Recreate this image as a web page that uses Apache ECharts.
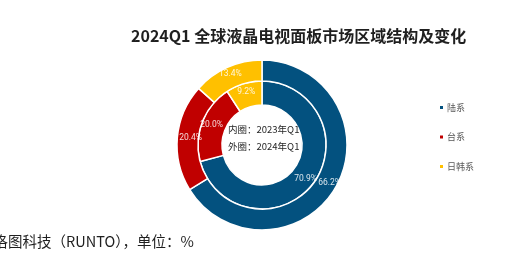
<!DOCTYPE html>
<html>
<head>
<meta charset="utf-8">
<script src="https://cdn.jsdelivr.net/npm/echarts@6/dist/echarts.min.js"></script>
<style>
  html, body { margin: 0; padding: 0; background: #fff; }
  #chart { width: 520px; height: 257px; }
</style>
</head>
<body>
<div id="chart"></div>
<script>
// Regions and their shares (%)
const regions = ['陆系', '台系', '日韩系'];
const share2023Q1 = [70.9, 20.0, 9.2];   // inner ring
const share2024Q1 = [66.2, 20.4, 13.4];  // outer ring
const regionColors = ['#03517f', '#c00000', '#ffc000'];

const FONT = '"Noto Sans CJK SC", "Microsoft YaHei", sans-serif';

function ringData(values) {
  return regions.map((name, i) => ({
    name: name,
    value: values[i],
    itemStyle: { color: regionColors[i] }
  }));
}

const labelStyle = {
  show: true,
  position: 'inside',
  formatter: p => p.value.toFixed(1) + '%',
  color: 'rgba(255,255,255,0.85)',
  fontSize: 8.5,
  fontFamily: 'Roboto, "Noto Sans", sans-serif'
};

// keep a value label from poking out past the left edge of its slice
function keepInside(params) {
  const gap = params.rect.x + 3 - params.labelRect.x;
  return { hideOverlap: false, dx: gap > 0 ? gap : 0 };
}

const chart = echarts.init(document.getElementById('chart'), null, { renderer: 'canvas' });
chart.setOption({
  animation: false,
  backgroundColor: '#ffffff',
  title: {
    text: '2024Q1 全球液晶电视面板市场区域结构及变化',
    left: 126,
    top: 23,
    textStyle: { fontSize: 16, fontWeight: 'bold', color: '#1f1f1f', fontFamily: FONT }
  },
  legend: {
    orient: 'vertical',
    left: 433,
    top: 98,
    itemWidth: 5,
    itemHeight: 5,
    itemGap: 20.5,
    icon: 'rect',
    data: regions,
    textStyle: { fontSize: 9, color: '#595959', fontFamily: FONT, padding: [0, 0, 0, -2] }
  },
  graphic: [
    {
      type: 'text',
      left: 228,
      top: 125,
      z: 100,
      style: { text: '内圈：2023年Q1', font: '9.5px ' + FONT, fill: '#262626' }
    },
    {
      type: 'text',
      left: 228,
      top: 142,
      z: 100,
      style: { text: '外圈：2024年Q1', font: '9.5px ' + FONT, fill: '#262626' }
    },
    {
      type: 'text',
      left: -6.5,
      top: 234,
      z: 100,
      style: { text: '洛图科技（RUNTO），单位：%', font: '14.5px ' + FONT, fill: '#1f1f1f' }
    }
  ],
  series: [
    {
      name: '2023Q1',
      type: 'pie',
      center: [262, 145],
      radius: [40, 64],
      startAngle: 90,
      clockwise: true,
      silent: true,
      avoidLabelOverlap: false,
      labelLayout: keepInside,
      itemStyle: { borderColor: '#ffffff', borderWidth: 1.5 },
      label: labelStyle,
      labelLine: { show: false },
      data: ringData(share2023Q1)
    },
    {
      name: '2024Q1',
      type: 'pie',
      center: [262, 145],
      radius: [64, 85],
      startAngle: 90,
      clockwise: true,
      silent: true,
      avoidLabelOverlap: false,
      labelLayout: keepInside,
      itemStyle: { borderColor: '#ffffff', borderWidth: 1.5 },
      label: labelStyle,
      labelLine: { show: false },
      data: ringData(share2024Q1)
    }
  ]
});
</script>
</body>
</html>
